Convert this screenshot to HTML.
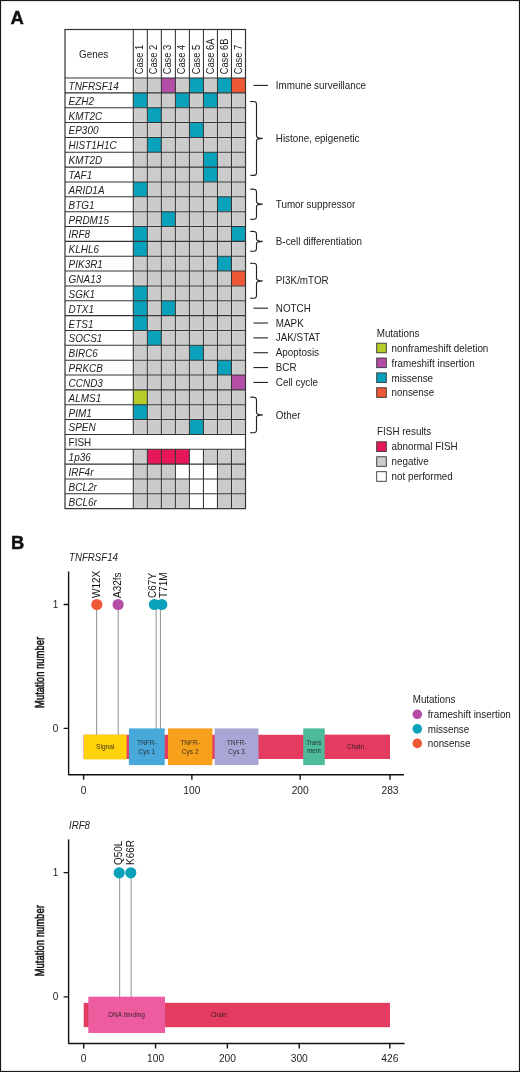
<!DOCTYPE html>
<html><head><meta charset="utf-8"><style>
html,body{margin:0;padding:0;background:#fff;}
body{width:520px;height:1072px;overflow:hidden;font-family:"Liberation Sans", sans-serif;}
svg{display:block;filter:blur(0.3px);}
</style></head><body>
<svg width="520" height="1072" viewBox="0 0 520 1072" font-family='"Liberation Sans", sans-serif'>
<rect x="0" y="0" width="520" height="1072" fill="#fff"/>
<rect x="0.5" y="0.5" width="519" height="1071" fill="none" stroke="#1a1a1a" stroke-width="1.2"/>
<text x="10.4" y="23.6" font-size="18.5" font-weight="bold" fill="#111" stroke="#111" stroke-width="0.4">A</text>
<text x="10.9" y="549.2" font-size="18.3" font-weight="bold" fill="#111" stroke="#111" stroke-width="0.5">B</text>
<rect x="133.30" y="78.00" width="14.02" height="14.85" fill="#DADADA"/>
<rect x="134.30" y="79.00" width="12.02" height="12.85" fill="#CBCBCB"/>
<rect x="147.33" y="78.00" width="14.02" height="14.85" fill="#DADADA"/>
<rect x="148.33" y="79.00" width="12.02" height="12.85" fill="#CBCBCB"/>
<rect x="161.35" y="78.00" width="14.02" height="14.85" fill="#B44DA5"/>
<rect x="175.38" y="78.00" width="14.02" height="14.85" fill="#DADADA"/>
<rect x="176.38" y="79.00" width="12.02" height="12.85" fill="#CBCBCB"/>
<rect x="189.40" y="78.00" width="14.02" height="14.85" fill="#0AA1BA"/>
<rect x="203.43" y="78.00" width="14.02" height="14.85" fill="#DADADA"/>
<rect x="204.43" y="79.00" width="12.02" height="12.85" fill="#CBCBCB"/>
<rect x="217.45" y="78.00" width="14.02" height="14.85" fill="#0AA1BA"/>
<rect x="231.47" y="78.00" width="14.02" height="14.85" fill="#EF5836"/>
<rect x="133.30" y="92.85" width="14.02" height="14.85" fill="#0AA1BA"/>
<rect x="147.33" y="92.85" width="14.02" height="14.85" fill="#DADADA"/>
<rect x="148.33" y="93.85" width="12.02" height="12.85" fill="#CBCBCB"/>
<rect x="161.35" y="92.85" width="14.02" height="14.85" fill="#DADADA"/>
<rect x="162.35" y="93.85" width="12.02" height="12.85" fill="#CBCBCB"/>
<rect x="175.38" y="92.85" width="14.02" height="14.85" fill="#0AA1BA"/>
<rect x="189.40" y="92.85" width="14.02" height="14.85" fill="#DADADA"/>
<rect x="190.40" y="93.85" width="12.02" height="12.85" fill="#CBCBCB"/>
<rect x="203.43" y="92.85" width="14.02" height="14.85" fill="#0AA1BA"/>
<rect x="217.45" y="92.85" width="14.02" height="14.85" fill="#DADADA"/>
<rect x="218.45" y="93.85" width="12.02" height="12.85" fill="#CBCBCB"/>
<rect x="231.47" y="92.85" width="14.02" height="14.85" fill="#DADADA"/>
<rect x="232.47" y="93.85" width="12.02" height="12.85" fill="#CBCBCB"/>
<rect x="133.30" y="107.70" width="14.02" height="14.85" fill="#DADADA"/>
<rect x="134.30" y="108.70" width="12.02" height="12.85" fill="#CBCBCB"/>
<rect x="147.33" y="107.70" width="14.02" height="14.85" fill="#0AA1BA"/>
<rect x="161.35" y="107.70" width="14.02" height="14.85" fill="#DADADA"/>
<rect x="162.35" y="108.70" width="12.02" height="12.85" fill="#CBCBCB"/>
<rect x="175.38" y="107.70" width="14.02" height="14.85" fill="#DADADA"/>
<rect x="176.38" y="108.70" width="12.02" height="12.85" fill="#CBCBCB"/>
<rect x="189.40" y="107.70" width="14.02" height="14.85" fill="#DADADA"/>
<rect x="190.40" y="108.70" width="12.02" height="12.85" fill="#CBCBCB"/>
<rect x="203.43" y="107.70" width="14.02" height="14.85" fill="#DADADA"/>
<rect x="204.43" y="108.70" width="12.02" height="12.85" fill="#CBCBCB"/>
<rect x="217.45" y="107.70" width="14.02" height="14.85" fill="#DADADA"/>
<rect x="218.45" y="108.70" width="12.02" height="12.85" fill="#CBCBCB"/>
<rect x="231.47" y="107.70" width="14.02" height="14.85" fill="#DADADA"/>
<rect x="232.47" y="108.70" width="12.02" height="12.85" fill="#CBCBCB"/>
<rect x="133.30" y="122.55" width="14.02" height="14.85" fill="#DADADA"/>
<rect x="134.30" y="123.55" width="12.02" height="12.85" fill="#CBCBCB"/>
<rect x="147.33" y="122.55" width="14.02" height="14.85" fill="#DADADA"/>
<rect x="148.33" y="123.55" width="12.02" height="12.85" fill="#CBCBCB"/>
<rect x="161.35" y="122.55" width="14.02" height="14.85" fill="#DADADA"/>
<rect x="162.35" y="123.55" width="12.02" height="12.85" fill="#CBCBCB"/>
<rect x="175.38" y="122.55" width="14.02" height="14.85" fill="#DADADA"/>
<rect x="176.38" y="123.55" width="12.02" height="12.85" fill="#CBCBCB"/>
<rect x="189.40" y="122.55" width="14.02" height="14.85" fill="#0AA1BA"/>
<rect x="203.43" y="122.55" width="14.02" height="14.85" fill="#DADADA"/>
<rect x="204.43" y="123.55" width="12.02" height="12.85" fill="#CBCBCB"/>
<rect x="217.45" y="122.55" width="14.02" height="14.85" fill="#DADADA"/>
<rect x="218.45" y="123.55" width="12.02" height="12.85" fill="#CBCBCB"/>
<rect x="231.47" y="122.55" width="14.02" height="14.85" fill="#DADADA"/>
<rect x="232.47" y="123.55" width="12.02" height="12.85" fill="#CBCBCB"/>
<rect x="133.30" y="137.40" width="14.02" height="14.85" fill="#DADADA"/>
<rect x="134.30" y="138.40" width="12.02" height="12.85" fill="#CBCBCB"/>
<rect x="147.33" y="137.40" width="14.02" height="14.85" fill="#0AA1BA"/>
<rect x="161.35" y="137.40" width="14.02" height="14.85" fill="#DADADA"/>
<rect x="162.35" y="138.40" width="12.02" height="12.85" fill="#CBCBCB"/>
<rect x="175.38" y="137.40" width="14.02" height="14.85" fill="#DADADA"/>
<rect x="176.38" y="138.40" width="12.02" height="12.85" fill="#CBCBCB"/>
<rect x="189.40" y="137.40" width="14.02" height="14.85" fill="#DADADA"/>
<rect x="190.40" y="138.40" width="12.02" height="12.85" fill="#CBCBCB"/>
<rect x="203.43" y="137.40" width="14.02" height="14.85" fill="#DADADA"/>
<rect x="204.43" y="138.40" width="12.02" height="12.85" fill="#CBCBCB"/>
<rect x="217.45" y="137.40" width="14.02" height="14.85" fill="#DADADA"/>
<rect x="218.45" y="138.40" width="12.02" height="12.85" fill="#CBCBCB"/>
<rect x="231.47" y="137.40" width="14.02" height="14.85" fill="#DADADA"/>
<rect x="232.47" y="138.40" width="12.02" height="12.85" fill="#CBCBCB"/>
<rect x="133.30" y="152.25" width="14.02" height="14.85" fill="#DADADA"/>
<rect x="134.30" y="153.25" width="12.02" height="12.85" fill="#CBCBCB"/>
<rect x="147.33" y="152.25" width="14.02" height="14.85" fill="#DADADA"/>
<rect x="148.33" y="153.25" width="12.02" height="12.85" fill="#CBCBCB"/>
<rect x="161.35" y="152.25" width="14.02" height="14.85" fill="#DADADA"/>
<rect x="162.35" y="153.25" width="12.02" height="12.85" fill="#CBCBCB"/>
<rect x="175.38" y="152.25" width="14.02" height="14.85" fill="#DADADA"/>
<rect x="176.38" y="153.25" width="12.02" height="12.85" fill="#CBCBCB"/>
<rect x="189.40" y="152.25" width="14.02" height="14.85" fill="#DADADA"/>
<rect x="190.40" y="153.25" width="12.02" height="12.85" fill="#CBCBCB"/>
<rect x="203.43" y="152.25" width="14.02" height="14.85" fill="#0AA1BA"/>
<rect x="217.45" y="152.25" width="14.02" height="14.85" fill="#DADADA"/>
<rect x="218.45" y="153.25" width="12.02" height="12.85" fill="#CBCBCB"/>
<rect x="231.47" y="152.25" width="14.02" height="14.85" fill="#DADADA"/>
<rect x="232.47" y="153.25" width="12.02" height="12.85" fill="#CBCBCB"/>
<rect x="133.30" y="167.10" width="14.02" height="14.85" fill="#DADADA"/>
<rect x="134.30" y="168.10" width="12.02" height="12.85" fill="#CBCBCB"/>
<rect x="147.33" y="167.10" width="14.02" height="14.85" fill="#DADADA"/>
<rect x="148.33" y="168.10" width="12.02" height="12.85" fill="#CBCBCB"/>
<rect x="161.35" y="167.10" width="14.02" height="14.85" fill="#DADADA"/>
<rect x="162.35" y="168.10" width="12.02" height="12.85" fill="#CBCBCB"/>
<rect x="175.38" y="167.10" width="14.02" height="14.85" fill="#DADADA"/>
<rect x="176.38" y="168.10" width="12.02" height="12.85" fill="#CBCBCB"/>
<rect x="189.40" y="167.10" width="14.02" height="14.85" fill="#DADADA"/>
<rect x="190.40" y="168.10" width="12.02" height="12.85" fill="#CBCBCB"/>
<rect x="203.43" y="167.10" width="14.02" height="14.85" fill="#0AA1BA"/>
<rect x="217.45" y="167.10" width="14.02" height="14.85" fill="#DADADA"/>
<rect x="218.45" y="168.10" width="12.02" height="12.85" fill="#CBCBCB"/>
<rect x="231.47" y="167.10" width="14.02" height="14.85" fill="#DADADA"/>
<rect x="232.47" y="168.10" width="12.02" height="12.85" fill="#CBCBCB"/>
<rect x="133.30" y="181.95" width="14.02" height="14.85" fill="#0AA1BA"/>
<rect x="147.33" y="181.95" width="14.02" height="14.85" fill="#DADADA"/>
<rect x="148.33" y="182.95" width="12.02" height="12.85" fill="#CBCBCB"/>
<rect x="161.35" y="181.95" width="14.02" height="14.85" fill="#DADADA"/>
<rect x="162.35" y="182.95" width="12.02" height="12.85" fill="#CBCBCB"/>
<rect x="175.38" y="181.95" width="14.02" height="14.85" fill="#DADADA"/>
<rect x="176.38" y="182.95" width="12.02" height="12.85" fill="#CBCBCB"/>
<rect x="189.40" y="181.95" width="14.02" height="14.85" fill="#DADADA"/>
<rect x="190.40" y="182.95" width="12.02" height="12.85" fill="#CBCBCB"/>
<rect x="203.43" y="181.95" width="14.02" height="14.85" fill="#DADADA"/>
<rect x="204.43" y="182.95" width="12.02" height="12.85" fill="#CBCBCB"/>
<rect x="217.45" y="181.95" width="14.02" height="14.85" fill="#DADADA"/>
<rect x="218.45" y="182.95" width="12.02" height="12.85" fill="#CBCBCB"/>
<rect x="231.47" y="181.95" width="14.02" height="14.85" fill="#DADADA"/>
<rect x="232.47" y="182.95" width="12.02" height="12.85" fill="#CBCBCB"/>
<rect x="133.30" y="196.80" width="14.02" height="14.85" fill="#DADADA"/>
<rect x="134.30" y="197.80" width="12.02" height="12.85" fill="#CBCBCB"/>
<rect x="147.33" y="196.80" width="14.02" height="14.85" fill="#DADADA"/>
<rect x="148.33" y="197.80" width="12.02" height="12.85" fill="#CBCBCB"/>
<rect x="161.35" y="196.80" width="14.02" height="14.85" fill="#DADADA"/>
<rect x="162.35" y="197.80" width="12.02" height="12.85" fill="#CBCBCB"/>
<rect x="175.38" y="196.80" width="14.02" height="14.85" fill="#DADADA"/>
<rect x="176.38" y="197.80" width="12.02" height="12.85" fill="#CBCBCB"/>
<rect x="189.40" y="196.80" width="14.02" height="14.85" fill="#DADADA"/>
<rect x="190.40" y="197.80" width="12.02" height="12.85" fill="#CBCBCB"/>
<rect x="203.43" y="196.80" width="14.02" height="14.85" fill="#DADADA"/>
<rect x="204.43" y="197.80" width="12.02" height="12.85" fill="#CBCBCB"/>
<rect x="217.45" y="196.80" width="14.02" height="14.85" fill="#0AA1BA"/>
<rect x="231.47" y="196.80" width="14.02" height="14.85" fill="#DADADA"/>
<rect x="232.47" y="197.80" width="12.02" height="12.85" fill="#CBCBCB"/>
<rect x="133.30" y="211.65" width="14.02" height="14.85" fill="#DADADA"/>
<rect x="134.30" y="212.65" width="12.02" height="12.85" fill="#CBCBCB"/>
<rect x="147.33" y="211.65" width="14.02" height="14.85" fill="#DADADA"/>
<rect x="148.33" y="212.65" width="12.02" height="12.85" fill="#CBCBCB"/>
<rect x="161.35" y="211.65" width="14.02" height="14.85" fill="#0AA1BA"/>
<rect x="175.38" y="211.65" width="14.02" height="14.85" fill="#DADADA"/>
<rect x="176.38" y="212.65" width="12.02" height="12.85" fill="#CBCBCB"/>
<rect x="189.40" y="211.65" width="14.02" height="14.85" fill="#DADADA"/>
<rect x="190.40" y="212.65" width="12.02" height="12.85" fill="#CBCBCB"/>
<rect x="203.43" y="211.65" width="14.02" height="14.85" fill="#DADADA"/>
<rect x="204.43" y="212.65" width="12.02" height="12.85" fill="#CBCBCB"/>
<rect x="217.45" y="211.65" width="14.02" height="14.85" fill="#DADADA"/>
<rect x="218.45" y="212.65" width="12.02" height="12.85" fill="#CBCBCB"/>
<rect x="231.47" y="211.65" width="14.02" height="14.85" fill="#DADADA"/>
<rect x="232.47" y="212.65" width="12.02" height="12.85" fill="#CBCBCB"/>
<rect x="133.30" y="226.50" width="14.02" height="14.85" fill="#0AA1BA"/>
<rect x="147.33" y="226.50" width="14.02" height="14.85" fill="#DADADA"/>
<rect x="148.33" y="227.50" width="12.02" height="12.85" fill="#CBCBCB"/>
<rect x="161.35" y="226.50" width="14.02" height="14.85" fill="#DADADA"/>
<rect x="162.35" y="227.50" width="12.02" height="12.85" fill="#CBCBCB"/>
<rect x="175.38" y="226.50" width="14.02" height="14.85" fill="#DADADA"/>
<rect x="176.38" y="227.50" width="12.02" height="12.85" fill="#CBCBCB"/>
<rect x="189.40" y="226.50" width="14.02" height="14.85" fill="#DADADA"/>
<rect x="190.40" y="227.50" width="12.02" height="12.85" fill="#CBCBCB"/>
<rect x="203.43" y="226.50" width="14.02" height="14.85" fill="#DADADA"/>
<rect x="204.43" y="227.50" width="12.02" height="12.85" fill="#CBCBCB"/>
<rect x="217.45" y="226.50" width="14.02" height="14.85" fill="#DADADA"/>
<rect x="218.45" y="227.50" width="12.02" height="12.85" fill="#CBCBCB"/>
<rect x="231.47" y="226.50" width="14.02" height="14.85" fill="#0AA1BA"/>
<rect x="133.30" y="241.35" width="14.02" height="14.85" fill="#0AA1BA"/>
<rect x="147.33" y="241.35" width="14.02" height="14.85" fill="#DADADA"/>
<rect x="148.33" y="242.35" width="12.02" height="12.85" fill="#CBCBCB"/>
<rect x="161.35" y="241.35" width="14.02" height="14.85" fill="#DADADA"/>
<rect x="162.35" y="242.35" width="12.02" height="12.85" fill="#CBCBCB"/>
<rect x="175.38" y="241.35" width="14.02" height="14.85" fill="#DADADA"/>
<rect x="176.38" y="242.35" width="12.02" height="12.85" fill="#CBCBCB"/>
<rect x="189.40" y="241.35" width="14.02" height="14.85" fill="#DADADA"/>
<rect x="190.40" y="242.35" width="12.02" height="12.85" fill="#CBCBCB"/>
<rect x="203.43" y="241.35" width="14.02" height="14.85" fill="#DADADA"/>
<rect x="204.43" y="242.35" width="12.02" height="12.85" fill="#CBCBCB"/>
<rect x="217.45" y="241.35" width="14.02" height="14.85" fill="#DADADA"/>
<rect x="218.45" y="242.35" width="12.02" height="12.85" fill="#CBCBCB"/>
<rect x="231.47" y="241.35" width="14.02" height="14.85" fill="#DADADA"/>
<rect x="232.47" y="242.35" width="12.02" height="12.85" fill="#CBCBCB"/>
<rect x="133.30" y="256.20" width="14.02" height="14.85" fill="#DADADA"/>
<rect x="134.30" y="257.20" width="12.02" height="12.85" fill="#CBCBCB"/>
<rect x="147.33" y="256.20" width="14.02" height="14.85" fill="#DADADA"/>
<rect x="148.33" y="257.20" width="12.02" height="12.85" fill="#CBCBCB"/>
<rect x="161.35" y="256.20" width="14.02" height="14.85" fill="#DADADA"/>
<rect x="162.35" y="257.20" width="12.02" height="12.85" fill="#CBCBCB"/>
<rect x="175.38" y="256.20" width="14.02" height="14.85" fill="#DADADA"/>
<rect x="176.38" y="257.20" width="12.02" height="12.85" fill="#CBCBCB"/>
<rect x="189.40" y="256.20" width="14.02" height="14.85" fill="#DADADA"/>
<rect x="190.40" y="257.20" width="12.02" height="12.85" fill="#CBCBCB"/>
<rect x="203.43" y="256.20" width="14.02" height="14.85" fill="#DADADA"/>
<rect x="204.43" y="257.20" width="12.02" height="12.85" fill="#CBCBCB"/>
<rect x="217.45" y="256.20" width="14.02" height="14.85" fill="#0AA1BA"/>
<rect x="231.47" y="256.20" width="14.02" height="14.85" fill="#DADADA"/>
<rect x="232.47" y="257.20" width="12.02" height="12.85" fill="#CBCBCB"/>
<rect x="133.30" y="271.05" width="14.02" height="14.85" fill="#DADADA"/>
<rect x="134.30" y="272.05" width="12.02" height="12.85" fill="#CBCBCB"/>
<rect x="147.33" y="271.05" width="14.02" height="14.85" fill="#DADADA"/>
<rect x="148.33" y="272.05" width="12.02" height="12.85" fill="#CBCBCB"/>
<rect x="161.35" y="271.05" width="14.02" height="14.85" fill="#DADADA"/>
<rect x="162.35" y="272.05" width="12.02" height="12.85" fill="#CBCBCB"/>
<rect x="175.38" y="271.05" width="14.02" height="14.85" fill="#DADADA"/>
<rect x="176.38" y="272.05" width="12.02" height="12.85" fill="#CBCBCB"/>
<rect x="189.40" y="271.05" width="14.02" height="14.85" fill="#DADADA"/>
<rect x="190.40" y="272.05" width="12.02" height="12.85" fill="#CBCBCB"/>
<rect x="203.43" y="271.05" width="14.02" height="14.85" fill="#DADADA"/>
<rect x="204.43" y="272.05" width="12.02" height="12.85" fill="#CBCBCB"/>
<rect x="217.45" y="271.05" width="14.02" height="14.85" fill="#DADADA"/>
<rect x="218.45" y="272.05" width="12.02" height="12.85" fill="#CBCBCB"/>
<rect x="231.47" y="271.05" width="14.02" height="14.85" fill="#EF5836"/>
<rect x="133.30" y="285.90" width="14.02" height="14.85" fill="#0AA1BA"/>
<rect x="147.33" y="285.90" width="14.02" height="14.85" fill="#DADADA"/>
<rect x="148.33" y="286.90" width="12.02" height="12.85" fill="#CBCBCB"/>
<rect x="161.35" y="285.90" width="14.02" height="14.85" fill="#DADADA"/>
<rect x="162.35" y="286.90" width="12.02" height="12.85" fill="#CBCBCB"/>
<rect x="175.38" y="285.90" width="14.02" height="14.85" fill="#DADADA"/>
<rect x="176.38" y="286.90" width="12.02" height="12.85" fill="#CBCBCB"/>
<rect x="189.40" y="285.90" width="14.02" height="14.85" fill="#DADADA"/>
<rect x="190.40" y="286.90" width="12.02" height="12.85" fill="#CBCBCB"/>
<rect x="203.43" y="285.90" width="14.02" height="14.85" fill="#DADADA"/>
<rect x="204.43" y="286.90" width="12.02" height="12.85" fill="#CBCBCB"/>
<rect x="217.45" y="285.90" width="14.02" height="14.85" fill="#DADADA"/>
<rect x="218.45" y="286.90" width="12.02" height="12.85" fill="#CBCBCB"/>
<rect x="231.47" y="285.90" width="14.02" height="14.85" fill="#DADADA"/>
<rect x="232.47" y="286.90" width="12.02" height="12.85" fill="#CBCBCB"/>
<rect x="133.30" y="300.75" width="14.02" height="14.85" fill="#0AA1BA"/>
<rect x="147.33" y="300.75" width="14.02" height="14.85" fill="#DADADA"/>
<rect x="148.33" y="301.75" width="12.02" height="12.85" fill="#CBCBCB"/>
<rect x="161.35" y="300.75" width="14.02" height="14.85" fill="#0AA1BA"/>
<rect x="175.38" y="300.75" width="14.02" height="14.85" fill="#DADADA"/>
<rect x="176.38" y="301.75" width="12.02" height="12.85" fill="#CBCBCB"/>
<rect x="189.40" y="300.75" width="14.02" height="14.85" fill="#DADADA"/>
<rect x="190.40" y="301.75" width="12.02" height="12.85" fill="#CBCBCB"/>
<rect x="203.43" y="300.75" width="14.02" height="14.85" fill="#DADADA"/>
<rect x="204.43" y="301.75" width="12.02" height="12.85" fill="#CBCBCB"/>
<rect x="217.45" y="300.75" width="14.02" height="14.85" fill="#DADADA"/>
<rect x="218.45" y="301.75" width="12.02" height="12.85" fill="#CBCBCB"/>
<rect x="231.47" y="300.75" width="14.02" height="14.85" fill="#DADADA"/>
<rect x="232.47" y="301.75" width="12.02" height="12.85" fill="#CBCBCB"/>
<rect x="133.30" y="315.60" width="14.02" height="14.85" fill="#0AA1BA"/>
<rect x="147.33" y="315.60" width="14.02" height="14.85" fill="#DADADA"/>
<rect x="148.33" y="316.60" width="12.02" height="12.85" fill="#CBCBCB"/>
<rect x="161.35" y="315.60" width="14.02" height="14.85" fill="#DADADA"/>
<rect x="162.35" y="316.60" width="12.02" height="12.85" fill="#CBCBCB"/>
<rect x="175.38" y="315.60" width="14.02" height="14.85" fill="#DADADA"/>
<rect x="176.38" y="316.60" width="12.02" height="12.85" fill="#CBCBCB"/>
<rect x="189.40" y="315.60" width="14.02" height="14.85" fill="#DADADA"/>
<rect x="190.40" y="316.60" width="12.02" height="12.85" fill="#CBCBCB"/>
<rect x="203.43" y="315.60" width="14.02" height="14.85" fill="#DADADA"/>
<rect x="204.43" y="316.60" width="12.02" height="12.85" fill="#CBCBCB"/>
<rect x="217.45" y="315.60" width="14.02" height="14.85" fill="#DADADA"/>
<rect x="218.45" y="316.60" width="12.02" height="12.85" fill="#CBCBCB"/>
<rect x="231.47" y="315.60" width="14.02" height="14.85" fill="#DADADA"/>
<rect x="232.47" y="316.60" width="12.02" height="12.85" fill="#CBCBCB"/>
<rect x="133.30" y="330.45" width="14.02" height="14.85" fill="#DADADA"/>
<rect x="134.30" y="331.45" width="12.02" height="12.85" fill="#CBCBCB"/>
<rect x="147.33" y="330.45" width="14.02" height="14.85" fill="#0AA1BA"/>
<rect x="161.35" y="330.45" width="14.02" height="14.85" fill="#DADADA"/>
<rect x="162.35" y="331.45" width="12.02" height="12.85" fill="#CBCBCB"/>
<rect x="175.38" y="330.45" width="14.02" height="14.85" fill="#DADADA"/>
<rect x="176.38" y="331.45" width="12.02" height="12.85" fill="#CBCBCB"/>
<rect x="189.40" y="330.45" width="14.02" height="14.85" fill="#DADADA"/>
<rect x="190.40" y="331.45" width="12.02" height="12.85" fill="#CBCBCB"/>
<rect x="203.43" y="330.45" width="14.02" height="14.85" fill="#DADADA"/>
<rect x="204.43" y="331.45" width="12.02" height="12.85" fill="#CBCBCB"/>
<rect x="217.45" y="330.45" width="14.02" height="14.85" fill="#DADADA"/>
<rect x="218.45" y="331.45" width="12.02" height="12.85" fill="#CBCBCB"/>
<rect x="231.47" y="330.45" width="14.02" height="14.85" fill="#DADADA"/>
<rect x="232.47" y="331.45" width="12.02" height="12.85" fill="#CBCBCB"/>
<rect x="133.30" y="345.30" width="14.02" height="14.85" fill="#DADADA"/>
<rect x="134.30" y="346.30" width="12.02" height="12.85" fill="#CBCBCB"/>
<rect x="147.33" y="345.30" width="14.02" height="14.85" fill="#DADADA"/>
<rect x="148.33" y="346.30" width="12.02" height="12.85" fill="#CBCBCB"/>
<rect x="161.35" y="345.30" width="14.02" height="14.85" fill="#DADADA"/>
<rect x="162.35" y="346.30" width="12.02" height="12.85" fill="#CBCBCB"/>
<rect x="175.38" y="345.30" width="14.02" height="14.85" fill="#DADADA"/>
<rect x="176.38" y="346.30" width="12.02" height="12.85" fill="#CBCBCB"/>
<rect x="189.40" y="345.30" width="14.02" height="14.85" fill="#0AA1BA"/>
<rect x="203.43" y="345.30" width="14.02" height="14.85" fill="#DADADA"/>
<rect x="204.43" y="346.30" width="12.02" height="12.85" fill="#CBCBCB"/>
<rect x="217.45" y="345.30" width="14.02" height="14.85" fill="#DADADA"/>
<rect x="218.45" y="346.30" width="12.02" height="12.85" fill="#CBCBCB"/>
<rect x="231.47" y="345.30" width="14.02" height="14.85" fill="#DADADA"/>
<rect x="232.47" y="346.30" width="12.02" height="12.85" fill="#CBCBCB"/>
<rect x="133.30" y="360.15" width="14.02" height="14.85" fill="#DADADA"/>
<rect x="134.30" y="361.15" width="12.02" height="12.85" fill="#CBCBCB"/>
<rect x="147.33" y="360.15" width="14.02" height="14.85" fill="#DADADA"/>
<rect x="148.33" y="361.15" width="12.02" height="12.85" fill="#CBCBCB"/>
<rect x="161.35" y="360.15" width="14.02" height="14.85" fill="#DADADA"/>
<rect x="162.35" y="361.15" width="12.02" height="12.85" fill="#CBCBCB"/>
<rect x="175.38" y="360.15" width="14.02" height="14.85" fill="#DADADA"/>
<rect x="176.38" y="361.15" width="12.02" height="12.85" fill="#CBCBCB"/>
<rect x="189.40" y="360.15" width="14.02" height="14.85" fill="#DADADA"/>
<rect x="190.40" y="361.15" width="12.02" height="12.85" fill="#CBCBCB"/>
<rect x="203.43" y="360.15" width="14.02" height="14.85" fill="#DADADA"/>
<rect x="204.43" y="361.15" width="12.02" height="12.85" fill="#CBCBCB"/>
<rect x="217.45" y="360.15" width="14.02" height="14.85" fill="#0AA1BA"/>
<rect x="231.47" y="360.15" width="14.02" height="14.85" fill="#DADADA"/>
<rect x="232.47" y="361.15" width="12.02" height="12.85" fill="#CBCBCB"/>
<rect x="133.30" y="375.00" width="14.02" height="14.85" fill="#DADADA"/>
<rect x="134.30" y="376.00" width="12.02" height="12.85" fill="#CBCBCB"/>
<rect x="147.33" y="375.00" width="14.02" height="14.85" fill="#DADADA"/>
<rect x="148.33" y="376.00" width="12.02" height="12.85" fill="#CBCBCB"/>
<rect x="161.35" y="375.00" width="14.02" height="14.85" fill="#DADADA"/>
<rect x="162.35" y="376.00" width="12.02" height="12.85" fill="#CBCBCB"/>
<rect x="175.38" y="375.00" width="14.02" height="14.85" fill="#DADADA"/>
<rect x="176.38" y="376.00" width="12.02" height="12.85" fill="#CBCBCB"/>
<rect x="189.40" y="375.00" width="14.02" height="14.85" fill="#DADADA"/>
<rect x="190.40" y="376.00" width="12.02" height="12.85" fill="#CBCBCB"/>
<rect x="203.43" y="375.00" width="14.02" height="14.85" fill="#DADADA"/>
<rect x="204.43" y="376.00" width="12.02" height="12.85" fill="#CBCBCB"/>
<rect x="217.45" y="375.00" width="14.02" height="14.85" fill="#DADADA"/>
<rect x="218.45" y="376.00" width="12.02" height="12.85" fill="#CBCBCB"/>
<rect x="231.47" y="375.00" width="14.02" height="14.85" fill="#B44DA5"/>
<rect x="133.30" y="389.85" width="14.02" height="14.85" fill="#B8CC2A"/>
<rect x="147.33" y="389.85" width="14.02" height="14.85" fill="#DADADA"/>
<rect x="148.33" y="390.85" width="12.02" height="12.85" fill="#CBCBCB"/>
<rect x="161.35" y="389.85" width="14.02" height="14.85" fill="#DADADA"/>
<rect x="162.35" y="390.85" width="12.02" height="12.85" fill="#CBCBCB"/>
<rect x="175.38" y="389.85" width="14.02" height="14.85" fill="#DADADA"/>
<rect x="176.38" y="390.85" width="12.02" height="12.85" fill="#CBCBCB"/>
<rect x="189.40" y="389.85" width="14.02" height="14.85" fill="#DADADA"/>
<rect x="190.40" y="390.85" width="12.02" height="12.85" fill="#CBCBCB"/>
<rect x="203.43" y="389.85" width="14.02" height="14.85" fill="#DADADA"/>
<rect x="204.43" y="390.85" width="12.02" height="12.85" fill="#CBCBCB"/>
<rect x="217.45" y="389.85" width="14.02" height="14.85" fill="#DADADA"/>
<rect x="218.45" y="390.85" width="12.02" height="12.85" fill="#CBCBCB"/>
<rect x="231.47" y="389.85" width="14.02" height="14.85" fill="#DADADA"/>
<rect x="232.47" y="390.85" width="12.02" height="12.85" fill="#CBCBCB"/>
<rect x="133.30" y="404.70" width="14.02" height="14.85" fill="#0AA1BA"/>
<rect x="147.33" y="404.70" width="14.02" height="14.85" fill="#DADADA"/>
<rect x="148.33" y="405.70" width="12.02" height="12.85" fill="#CBCBCB"/>
<rect x="161.35" y="404.70" width="14.02" height="14.85" fill="#DADADA"/>
<rect x="162.35" y="405.70" width="12.02" height="12.85" fill="#CBCBCB"/>
<rect x="175.38" y="404.70" width="14.02" height="14.85" fill="#DADADA"/>
<rect x="176.38" y="405.70" width="12.02" height="12.85" fill="#CBCBCB"/>
<rect x="189.40" y="404.70" width="14.02" height="14.85" fill="#DADADA"/>
<rect x="190.40" y="405.70" width="12.02" height="12.85" fill="#CBCBCB"/>
<rect x="203.43" y="404.70" width="14.02" height="14.85" fill="#DADADA"/>
<rect x="204.43" y="405.70" width="12.02" height="12.85" fill="#CBCBCB"/>
<rect x="217.45" y="404.70" width="14.02" height="14.85" fill="#DADADA"/>
<rect x="218.45" y="405.70" width="12.02" height="12.85" fill="#CBCBCB"/>
<rect x="231.47" y="404.70" width="14.02" height="14.85" fill="#DADADA"/>
<rect x="232.47" y="405.70" width="12.02" height="12.85" fill="#CBCBCB"/>
<rect x="133.30" y="419.55" width="14.02" height="14.85" fill="#DADADA"/>
<rect x="134.30" y="420.55" width="12.02" height="12.85" fill="#CBCBCB"/>
<rect x="147.33" y="419.55" width="14.02" height="14.85" fill="#DADADA"/>
<rect x="148.33" y="420.55" width="12.02" height="12.85" fill="#CBCBCB"/>
<rect x="161.35" y="419.55" width="14.02" height="14.85" fill="#DADADA"/>
<rect x="162.35" y="420.55" width="12.02" height="12.85" fill="#CBCBCB"/>
<rect x="175.38" y="419.55" width="14.02" height="14.85" fill="#DADADA"/>
<rect x="176.38" y="420.55" width="12.02" height="12.85" fill="#CBCBCB"/>
<rect x="189.40" y="419.55" width="14.02" height="14.85" fill="#0AA1BA"/>
<rect x="203.43" y="419.55" width="14.02" height="14.85" fill="#DADADA"/>
<rect x="204.43" y="420.55" width="12.02" height="12.85" fill="#CBCBCB"/>
<rect x="217.45" y="419.55" width="14.02" height="14.85" fill="#DADADA"/>
<rect x="218.45" y="420.55" width="12.02" height="12.85" fill="#CBCBCB"/>
<rect x="231.47" y="419.55" width="14.02" height="14.85" fill="#DADADA"/>
<rect x="232.47" y="420.55" width="12.02" height="12.85" fill="#CBCBCB"/>
<rect x="133.30" y="449.25" width="14.02" height="14.85" fill="#DADADA"/>
<rect x="134.30" y="450.25" width="12.02" height="12.85" fill="#CBCBCB"/>
<rect x="147.33" y="449.25" width="14.02" height="14.85" fill="#E6185A"/>
<rect x="161.35" y="449.25" width="14.02" height="14.85" fill="#E6185A"/>
<rect x="175.38" y="449.25" width="14.02" height="14.85" fill="#E6185A"/>
<rect x="189.40" y="449.25" width="14.02" height="14.85" fill="#fff"/>
<rect x="203.43" y="449.25" width="14.02" height="14.85" fill="#DADADA"/>
<rect x="204.43" y="450.25" width="12.02" height="12.85" fill="#CBCBCB"/>
<rect x="217.45" y="449.25" width="14.02" height="14.85" fill="#DADADA"/>
<rect x="218.45" y="450.25" width="12.02" height="12.85" fill="#CBCBCB"/>
<rect x="231.47" y="449.25" width="14.02" height="14.85" fill="#DADADA"/>
<rect x="232.47" y="450.25" width="12.02" height="12.85" fill="#CBCBCB"/>
<rect x="133.30" y="464.10" width="14.02" height="14.85" fill="#DADADA"/>
<rect x="134.30" y="465.10" width="12.02" height="12.85" fill="#CBCBCB"/>
<rect x="147.33" y="464.10" width="14.02" height="14.85" fill="#DADADA"/>
<rect x="148.33" y="465.10" width="12.02" height="12.85" fill="#CBCBCB"/>
<rect x="161.35" y="464.10" width="14.02" height="14.85" fill="#DADADA"/>
<rect x="162.35" y="465.10" width="12.02" height="12.85" fill="#CBCBCB"/>
<rect x="175.38" y="464.10" width="14.02" height="14.85" fill="#fff"/>
<rect x="189.40" y="464.10" width="14.02" height="14.85" fill="#fff"/>
<rect x="203.43" y="464.10" width="14.02" height="14.85" fill="#fff"/>
<rect x="217.45" y="464.10" width="14.02" height="14.85" fill="#DADADA"/>
<rect x="218.45" y="465.10" width="12.02" height="12.85" fill="#CBCBCB"/>
<rect x="231.47" y="464.10" width="14.02" height="14.85" fill="#DADADA"/>
<rect x="232.47" y="465.10" width="12.02" height="12.85" fill="#CBCBCB"/>
<rect x="133.30" y="478.95" width="14.02" height="14.85" fill="#DADADA"/>
<rect x="134.30" y="479.95" width="12.02" height="12.85" fill="#CBCBCB"/>
<rect x="147.33" y="478.95" width="14.02" height="14.85" fill="#DADADA"/>
<rect x="148.33" y="479.95" width="12.02" height="12.85" fill="#CBCBCB"/>
<rect x="161.35" y="478.95" width="14.02" height="14.85" fill="#DADADA"/>
<rect x="162.35" y="479.95" width="12.02" height="12.85" fill="#CBCBCB"/>
<rect x="175.38" y="478.95" width="14.02" height="14.85" fill="#DADADA"/>
<rect x="176.38" y="479.95" width="12.02" height="12.85" fill="#CBCBCB"/>
<rect x="189.40" y="478.95" width="14.02" height="14.85" fill="#fff"/>
<rect x="203.43" y="478.95" width="14.02" height="14.85" fill="#fff"/>
<rect x="217.45" y="478.95" width="14.02" height="14.85" fill="#DADADA"/>
<rect x="218.45" y="479.95" width="12.02" height="12.85" fill="#CBCBCB"/>
<rect x="231.47" y="478.95" width="14.02" height="14.85" fill="#DADADA"/>
<rect x="232.47" y="479.95" width="12.02" height="12.85" fill="#CBCBCB"/>
<rect x="133.30" y="493.80" width="14.02" height="14.85" fill="#DADADA"/>
<rect x="134.30" y="494.80" width="12.02" height="12.85" fill="#CBCBCB"/>
<rect x="147.33" y="493.80" width="14.02" height="14.85" fill="#DADADA"/>
<rect x="148.33" y="494.80" width="12.02" height="12.85" fill="#CBCBCB"/>
<rect x="161.35" y="493.80" width="14.02" height="14.85" fill="#DADADA"/>
<rect x="162.35" y="494.80" width="12.02" height="12.85" fill="#CBCBCB"/>
<rect x="175.38" y="493.80" width="14.02" height="14.85" fill="#DADADA"/>
<rect x="176.38" y="494.80" width="12.02" height="12.85" fill="#CBCBCB"/>
<rect x="189.40" y="493.80" width="14.02" height="14.85" fill="#fff"/>
<rect x="203.43" y="493.80" width="14.02" height="14.85" fill="#fff"/>
<rect x="217.45" y="493.80" width="14.02" height="14.85" fill="#DADADA"/>
<rect x="218.45" y="494.80" width="12.02" height="12.85" fill="#CBCBCB"/>
<rect x="231.47" y="493.80" width="14.02" height="14.85" fill="#DADADA"/>
<rect x="232.47" y="494.80" width="12.02" height="12.85" fill="#CBCBCB"/>
<path d="M65.0 78.0H245.5 M65.0 92.85H245.5 M65.0 107.70H245.5 M65.0 122.55H245.5 M65.0 137.40H245.5 M65.0 152.25H245.5 M65.0 167.10H245.5 M65.0 181.95H245.5 M65.0 196.80H245.5 M65.0 211.65H245.5 M65.0 226.50H245.5 M65.0 241.35H245.5 M65.0 256.20H245.5 M65.0 271.05H245.5 M65.0 285.90H245.5 M65.0 300.75H245.5 M65.0 315.60H245.5 M65.0 330.45H245.5 M65.0 345.30H245.5 M65.0 360.15H245.5 M65.0 375.00H245.5 M65.0 389.85H245.5 M65.0 404.70H245.5 M65.0 419.55H245.5 M65.0 434.40H245.5 M65.0 449.25H245.5 M65.0 464.10H245.5 M65.0 478.95H245.5 M65.0 493.80H245.5 M133.30 29.5V434.40 M133.30 449.25V508.65 M147.33 29.5V434.40 M147.33 449.25V508.65 M161.35 29.5V434.40 M161.35 449.25V508.65 M175.38 29.5V434.40 M175.38 449.25V508.65 M189.40 29.5V434.40 M189.40 449.25V508.65 M203.43 29.5V434.40 M203.43 449.25V508.65 M217.45 29.5V434.40 M217.45 449.25V508.65 M231.47 29.5V434.40 M231.47 449.25V508.65" stroke="#333333" stroke-width="1.05" fill="none"/>
<rect x="65.0" y="29.5" width="180.5" height="479.15" fill="none" stroke="#333333" stroke-width="1.2"/>
<text transform="translate(79.10,57.80) scale(0.975,1)" font-size="10.1" fill="#222">Genes</text>
<text transform="translate(143.41,74.30) rotate(-90) scale(0.915,1)" font-size="10.2" fill="#222">Case 1</text>
<text transform="translate(157.44,74.30) rotate(-90) scale(0.915,1)" font-size="10.2" fill="#222">Case 2</text>
<text transform="translate(171.46,74.30) rotate(-90) scale(0.915,1)" font-size="10.2" fill="#222">Case 3</text>
<text transform="translate(185.49,74.30) rotate(-90) scale(0.915,1)" font-size="10.2" fill="#222">Case 4</text>
<text transform="translate(199.51,74.30) rotate(-90) scale(0.915,1)" font-size="10.2" fill="#222">Case 5</text>
<text transform="translate(213.54,74.30) rotate(-90) scale(0.915,1)" font-size="10.2" fill="#222">Case 6A</text>
<text transform="translate(227.56,74.30) rotate(-90) scale(0.915,1)" font-size="10.2" fill="#222">Case 6B</text>
<text transform="translate(241.59,74.30) rotate(-90) scale(0.915,1)" font-size="10.2" fill="#222">Case 7</text>
<text transform="translate(68.60,89.90) scale(0.995,1)" font-size="10.0" fill="#222" font-style="italic">TNFRSF14</text>
<text transform="translate(68.60,104.75) scale(0.995,1)" font-size="10.0" fill="#222" font-style="italic">EZH2</text>
<text transform="translate(68.60,119.60) scale(0.995,1)" font-size="10.0" fill="#222" font-style="italic">KMT2C</text>
<text transform="translate(68.60,134.45) scale(0.995,1)" font-size="10.0" fill="#222" font-style="italic">EP300</text>
<text transform="translate(68.60,149.30) scale(0.995,1)" font-size="10.0" fill="#222" font-style="italic">HIST1H1C</text>
<text transform="translate(68.60,164.15) scale(0.995,1)" font-size="10.0" fill="#222" font-style="italic">KMT2D</text>
<text transform="translate(68.60,179.00) scale(0.995,1)" font-size="10.0" fill="#222" font-style="italic">TAF1</text>
<text transform="translate(68.60,193.85) scale(0.995,1)" font-size="10.0" fill="#222" font-style="italic">ARID1A</text>
<text transform="translate(68.60,208.70) scale(0.995,1)" font-size="10.0" fill="#222" font-style="italic">BTG1</text>
<text transform="translate(68.60,223.55) scale(0.995,1)" font-size="10.0" fill="#222" font-style="italic">PRDM15</text>
<text transform="translate(68.60,238.40) scale(0.995,1)" font-size="10.0" fill="#222" font-style="italic">IRF8</text>
<text transform="translate(68.60,253.25) scale(0.995,1)" font-size="10.0" fill="#222" font-style="italic">KLHL6</text>
<text transform="translate(68.60,268.10) scale(0.995,1)" font-size="10.0" fill="#222" font-style="italic">PIK3R1</text>
<text transform="translate(68.60,282.95) scale(0.995,1)" font-size="10.0" fill="#222" font-style="italic">GNA13</text>
<text transform="translate(68.60,297.80) scale(0.995,1)" font-size="10.0" fill="#222" font-style="italic">SGK1</text>
<text transform="translate(68.60,312.65) scale(0.995,1)" font-size="10.0" fill="#222" font-style="italic">DTX1</text>
<text transform="translate(68.60,327.50) scale(0.995,1)" font-size="10.0" fill="#222" font-style="italic">ETS1</text>
<text transform="translate(68.60,342.35) scale(0.995,1)" font-size="10.0" fill="#222" font-style="italic">SOCS1</text>
<text transform="translate(68.60,357.20) scale(0.995,1)" font-size="10.0" fill="#222" font-style="italic">BIRC6</text>
<text transform="translate(68.60,372.05) scale(0.995,1)" font-size="10.0" fill="#222" font-style="italic">PRKCB</text>
<text transform="translate(68.60,386.90) scale(0.995,1)" font-size="10.0" fill="#222" font-style="italic">CCND3</text>
<text transform="translate(68.60,401.75) scale(0.995,1)" font-size="10.0" fill="#222" font-style="italic">ALMS1</text>
<text transform="translate(68.60,416.60) scale(0.995,1)" font-size="10.0" fill="#222" font-style="italic">PIM1</text>
<text transform="translate(68.60,431.45) scale(0.995,1)" font-size="10.0" fill="#222" font-style="italic">SPEN</text>
<text transform="translate(68.60,446.30) scale(0.995,1)" font-size="10.0" fill="#222">FISH</text>
<text transform="translate(68.60,461.15) scale(0.995,1)" font-size="10.0" fill="#222" font-style="italic">1p36</text>
<text transform="translate(68.60,476.00) scale(0.995,1)" font-size="10.0" fill="#222" font-style="italic">IRF4r</text>
<text transform="translate(68.60,490.85) scale(0.995,1)" font-size="10.0" fill="#222" font-style="italic">BCL2r</text>
<text transform="translate(68.60,505.70) scale(0.995,1)" font-size="10.0" fill="#222" font-style="italic">BCL6r</text>
<path d="M253.5 85.42H268" stroke="#222" stroke-width="1.1"/>
<text transform="translate(275.80,89.02) scale(0.975,1)" font-size="10.1" fill="#222">Immune surveillance</text>
<path d="M250.2 101.60C255.0 101.20 256.5 101.60 256.5 104.20V136.00C256.5 137.80 257.7 138.40 262.7 138.40M262.7 138.40C257.7 138.40 256.5 139.00 256.5 140.80V172.70C256.5 175.30 255.0 175.70 250.2 175.30" stroke="#222" stroke-width="1.15" fill="none"/>
<text transform="translate(275.80,142.00) scale(0.975,1)" font-size="10.1" fill="#222">Histone, epigenetic</text>
<path d="M250.2 189.30C255.0 188.90 256.5 189.30 256.5 191.90V201.70C256.5 203.50 257.7 204.10 262.7 204.10M262.7 204.10C257.7 204.10 256.5 204.70 256.5 206.50V216.60C256.5 219.20 255.0 219.60 250.2 219.20" stroke="#222" stroke-width="1.15" fill="none"/>
<text transform="translate(275.80,207.70) scale(0.975,1)" font-size="10.1" fill="#222">Tumor suppressor</text>
<path d="M250.2 231.50C255.0 231.10 256.5 231.50 256.5 234.10V239.00C256.5 240.80 257.7 241.40 262.7 241.40M262.7 241.40C257.7 241.40 256.5 242.00 256.5 243.80V248.50C256.5 251.10 255.0 251.50 250.2 251.10" stroke="#222" stroke-width="1.15" fill="none"/>
<text transform="translate(275.80,245.00) scale(0.975,1)" font-size="10.1" fill="#222">B-cell differentiation</text>
<path d="M250.2 263.40C255.0 263.00 256.5 263.40 256.5 266.00V278.40C256.5 280.20 257.7 280.80 262.7 280.80M262.7 280.80C257.7 280.80 256.5 281.40 256.5 283.20V295.50C256.5 298.10 255.0 298.50 250.2 298.10" stroke="#222" stroke-width="1.15" fill="none"/>
<text transform="translate(275.80,284.40) scale(0.975,1)" font-size="10.1" fill="#222">PI3K/mTOR</text>
<path d="M253.5 308.18H268" stroke="#222" stroke-width="1.1"/>
<text transform="translate(275.80,311.78) scale(0.975,1)" font-size="10.1" fill="#222">NOTCH</text>
<path d="M253.5 323.03H268" stroke="#222" stroke-width="1.1"/>
<text transform="translate(275.80,326.63) scale(0.975,1)" font-size="10.1" fill="#222">MAPK</text>
<path d="M253.5 337.88H268" stroke="#222" stroke-width="1.1"/>
<text transform="translate(275.80,341.48) scale(0.975,1)" font-size="10.1" fill="#222">JAK/STAT</text>
<path d="M253.5 352.73H268" stroke="#222" stroke-width="1.1"/>
<text transform="translate(275.80,356.33) scale(0.975,1)" font-size="10.1" fill="#222">Apoptosis</text>
<path d="M253.5 367.57H268" stroke="#222" stroke-width="1.1"/>
<text transform="translate(275.80,371.18) scale(0.975,1)" font-size="10.1" fill="#222">BCR</text>
<path d="M253.5 382.43H268" stroke="#222" stroke-width="1.1"/>
<text transform="translate(275.80,386.03) scale(0.975,1)" font-size="10.1" fill="#222">Cell cycle</text>
<path d="M250.2 397.30C255.0 396.90 256.5 397.30 256.5 399.90V412.50C256.5 414.30 257.7 414.90 262.7 414.90M262.7 414.90C257.7 414.90 256.5 415.50 256.5 417.30V430.00C256.5 432.60 255.0 433.00 250.2 432.60" stroke="#222" stroke-width="1.15" fill="none"/>
<text transform="translate(275.80,418.50) scale(0.975,1)" font-size="10.1" fill="#222">Other</text>
<text transform="translate(376.70,336.80) scale(0.975,1)" font-size="10.1" fill="#222">Mutations</text>
<rect x="376.7" y="343.20" width="9.6" height="9.6" fill="#B8CC2A" stroke="#333" stroke-width="0.9"/>
<text transform="translate(391.50,351.80) scale(0.975,1)" font-size="10.1" fill="#222">nonframeshift deletion</text>
<rect x="376.7" y="358.05" width="9.6" height="9.6" fill="#B44DA5" stroke="#333" stroke-width="0.9"/>
<text transform="translate(391.50,366.65) scale(0.975,1)" font-size="10.1" fill="#222">frameshift insertion</text>
<rect x="376.7" y="372.90" width="9.6" height="9.6" fill="#0AA1BA" stroke="#333" stroke-width="0.9"/>
<text transform="translate(391.50,381.50) scale(0.975,1)" font-size="10.1" fill="#222">missense</text>
<rect x="376.7" y="387.75" width="9.6" height="9.6" fill="#EF5836" stroke="#333" stroke-width="0.9"/>
<text transform="translate(391.50,396.35) scale(0.975,1)" font-size="10.1" fill="#222">nonsense</text>
<text transform="translate(377.10,435.30) scale(0.975,1)" font-size="10.1" fill="#222">FISH results</text>
<rect x="376.7" y="441.80" width="9.6" height="9.6" fill="#E6185A" stroke="#333" stroke-width="0.9"/>
<text transform="translate(391.50,450.40) scale(0.975,1)" font-size="10.1" fill="#222">abnormal FISH</text>
<rect x="376.7" y="456.75" width="9.6" height="9.6" fill="#CBCBCB" stroke="#333" stroke-width="0.9"/>
<text transform="translate(391.50,465.35) scale(0.975,1)" font-size="10.1" fill="#222">negative</text>
<rect x="376.7" y="471.70" width="9.6" height="9.6" fill="#fff" stroke="#333" stroke-width="0.9"/>
<text transform="translate(391.50,480.30) scale(0.975,1)" font-size="10.1" fill="#222">not performed</text>
<text transform="translate(69.00,560.60) scale(0.96,1)" font-size="10.1" fill="#222" font-style="italic">TNFRSF14</text>
<path d="M68.6 571.5V774.7" stroke="#111" stroke-width="1.4" fill="none"/>
<path d="M63.6 604.5H68.6M63.6 728.3H68.6" stroke="#111" stroke-width="1.3"/>
<text transform="translate(58.20,608.00)" font-size="10.0" fill="#222" text-anchor="end">1</text>
<text transform="translate(58.20,731.80)" font-size="10.0" fill="#222" text-anchor="end">0</text>
<text transform="translate(44.30,672.40) rotate(-90) scale(0.735,1)" font-size="12.9" fill="#111" text-anchor="middle" stroke="#111" stroke-width="0.55">Mutation number</text>
<path d="M96.59 604.5V747" stroke="#9a9a9a" stroke-width="1.1"/>
<path d="M118.25 604.5V747" stroke="#9a9a9a" stroke-width="1.1"/>
<path d="M156.14 604.5V747" stroke="#9a9a9a" stroke-width="1.1"/>
<path d="M160.47 604.5V747" stroke="#9a9a9a" stroke-width="1.1"/>
<rect x="83.6" y="734.8" width="306.40" height="24.2" fill="#E43B60"/>
<rect x="83.9" y="734.6" width="42.70" height="24.80" fill="#FFD20A"/>
<text transform="translate(105.25,749.38) scale(0.97,1)" font-size="6.8" fill="#1a1a1a" text-anchor="middle" fill-opacity="0.85">Signal</text>
<rect x="128.9" y="728.4" width="35.80" height="36.70" fill="#48A8DA"/>
<text transform="translate(146.80,744.68) scale(0.97,1)" font-size="6.8" fill="#1a1a1a" text-anchor="middle" fill-opacity="0.85">TNFR-</text>
<text transform="translate(146.80,753.58) scale(0.97,1)" font-size="6.8" fill="#1a1a1a" text-anchor="middle" fill-opacity="0.85">Cys 1</text>
<rect x="168.0" y="728.4" width="44.40" height="36.70" fill="#F6A01C"/>
<text transform="translate(190.20,744.68) scale(0.97,1)" font-size="6.8" fill="#1a1a1a" text-anchor="middle" fill-opacity="0.85">TNFR-</text>
<text transform="translate(190.20,753.58) scale(0.97,1)" font-size="6.8" fill="#1a1a1a" text-anchor="middle" fill-opacity="0.85">Cys 2</text>
<rect x="214.6" y="728.4" width="43.90" height="36.70" fill="#A9A6D6"/>
<text transform="translate(236.55,744.68) scale(0.97,1)" font-size="6.8" fill="#1a1a1a" text-anchor="middle" fill-opacity="0.85">TNFR-</text>
<text transform="translate(236.55,753.58) scale(0.97,1)" font-size="6.8" fill="#1a1a1a" text-anchor="middle" fill-opacity="0.85">Cys 3</text>
<rect x="303.2" y="728.4" width="21.60" height="36.70" fill="#4DBA9A"/>
<text transform="translate(314.00,744.50) scale(0.97,1)" font-size="6.3" fill="#1a1a1a" text-anchor="middle" fill-opacity="0.85">Trans</text>
<text transform="translate(314.00,753.41) scale(0.97,1)" font-size="6.3" fill="#1a1a1a" text-anchor="middle" fill-opacity="0.85">mem</text>
<rect x="324.8" y="734.8" width="65.20" height="24.20" fill="#E43B60"/>
<text transform="translate(355.50,749.28) scale(0.97,1)" font-size="6.8" fill="#1a1a1a" text-anchor="middle" fill-opacity="0.85">Chain</text>
<circle cx="96.80" cy="604.5" r="5.6" fill="#EF5836"/>
<text transform="translate(99.70,597.90) rotate(-90) scale(0.97,1)" font-size="10.3" fill="#111">W12X</text>
<circle cx="118.10" cy="604.5" r="5.6" fill="#B44DA5"/>
<text transform="translate(121.10,597.90) rotate(-90) scale(0.97,1)" font-size="10.3" fill="#111">A32fs</text>
<circle cx="154.40" cy="604.5" r="5.6" fill="#0AA1BA"/>
<text transform="translate(155.70,597.90) rotate(-90) scale(0.97,1)" font-size="10.3" fill="#111">C67Y</text>
<circle cx="161.80" cy="604.5" r="5.6" fill="#0AA1BA"/>
<text transform="translate(166.80,597.90) rotate(-90) scale(0.97,1)" font-size="10.3" fill="#111">T71M</text>
<path d="M68.2 774.7H404.0" stroke="#111" stroke-width="1.5"/>
<path d="M83.60 774.7V779.7" stroke="#111" stroke-width="1.4"/>
<text transform="translate(83.60,793.50)" font-size="10.2" fill="#222" text-anchor="middle">0</text>
<path d="M191.87 774.7V779.7" stroke="#111" stroke-width="1.4"/>
<text transform="translate(191.87,793.50)" font-size="10.2" fill="#222" text-anchor="middle">100</text>
<path d="M300.14 774.7V779.7" stroke="#111" stroke-width="1.4"/>
<text transform="translate(300.14,793.50)" font-size="10.2" fill="#222" text-anchor="middle">200</text>
<path d="M390.00 774.7V779.7" stroke="#111" stroke-width="1.4"/>
<text transform="translate(390.00,793.50)" font-size="10.2" fill="#222" text-anchor="middle">283</text>
<text transform="translate(412.70,703.00) scale(0.975,1)" font-size="10.1" fill="#222">Mutations</text>
<circle cx="417.3" cy="714.30" r="4.8" fill="#B44DA5"/>
<text transform="translate(427.70,718.30) scale(0.975,1)" font-size="10.1" fill="#222">frameshift insertion</text>
<circle cx="417.3" cy="728.85" r="4.8" fill="#0AA1BA"/>
<text transform="translate(427.70,732.85) scale(0.975,1)" font-size="10.1" fill="#222">missense</text>
<circle cx="417.3" cy="743.40" r="4.8" fill="#EF5836"/>
<text transform="translate(427.70,747.40) scale(0.975,1)" font-size="10.1" fill="#222">nonsense</text>
<text transform="translate(69.00,829.30) scale(0.96,1)" font-size="10.1" fill="#222" font-style="italic">IRF8</text>
<path d="M68.6 839.4V1043.5" stroke="#111" stroke-width="1.4" fill="none"/>
<path d="M63.6 872.7H68.6M63.6 996.8H68.6" stroke="#111" stroke-width="1.3"/>
<text transform="translate(58.20,876.20)" font-size="10.0" fill="#222" text-anchor="end">1</text>
<text transform="translate(58.20,1000.30)" font-size="10.0" fill="#222" text-anchor="end">0</text>
<text transform="translate(44.30,940.75) rotate(-90) scale(0.735,1)" font-size="12.9" fill="#111" text-anchor="middle" stroke="#111" stroke-width="0.55">Mutation number</text>
<path d="M119.63 872.7V1010" stroke="#9a9a9a" stroke-width="1.1"/>
<path d="M131.12 872.7V1010" stroke="#9a9a9a" stroke-width="1.1"/>
<rect x="83.7" y="1002.9" width="306.10" height="24.2" fill="#E43B60"/>
<rect x="88.3" y="996.7" width="76.70" height="36.30" fill="#EC5C9E"/>
<text transform="translate(126.65,1017.23) scale(0.97,1)" font-size="6.8" fill="#1a1a1a" text-anchor="middle" fill-opacity="0.85">DNA binding</text>
<rect x="165.0" y="1002.9" width="224.80" height="24.20" fill="#E43B60"/>
<text transform="translate(218.60,1017.21) scale(0.97,1)" font-size="6.3" fill="#1a1a1a" text-anchor="middle" fill-opacity="0.85">Chain</text>
<circle cx="119.20" cy="872.8" r="5.6" fill="#0AA1BA"/>
<text transform="translate(122.30,865.00) rotate(-90) scale(0.97,1)" font-size="10.3" fill="#111">Q50L</text>
<circle cx="130.80" cy="872.8" r="5.6" fill="#0AA1BA"/>
<text transform="translate(133.80,865.00) rotate(-90) scale(0.97,1)" font-size="10.3" fill="#111">K66R</text>
<path d="M68.2 1043.5H404.6" stroke="#111" stroke-width="1.5"/>
<path d="M83.70 1043.5V1048.5" stroke="#111" stroke-width="1.4"/>
<text transform="translate(83.70,1062.30)" font-size="10.2" fill="#222" text-anchor="middle">0</text>
<path d="M155.55 1043.5V1048.5" stroke="#111" stroke-width="1.4"/>
<text transform="translate(155.55,1062.30)" font-size="10.2" fill="#222" text-anchor="middle">100</text>
<path d="M227.41 1043.5V1048.5" stroke="#111" stroke-width="1.4"/>
<text transform="translate(227.41,1062.30)" font-size="10.2" fill="#222" text-anchor="middle">200</text>
<path d="M299.26 1043.5V1048.5" stroke="#111" stroke-width="1.4"/>
<text transform="translate(299.26,1062.30)" font-size="10.2" fill="#222" text-anchor="middle">300</text>
<path d="M389.80 1043.5V1048.5" stroke="#111" stroke-width="1.4"/>
<text transform="translate(389.80,1062.30)" font-size="10.2" fill="#222" text-anchor="middle">426</text>
</svg>
</body></html>
